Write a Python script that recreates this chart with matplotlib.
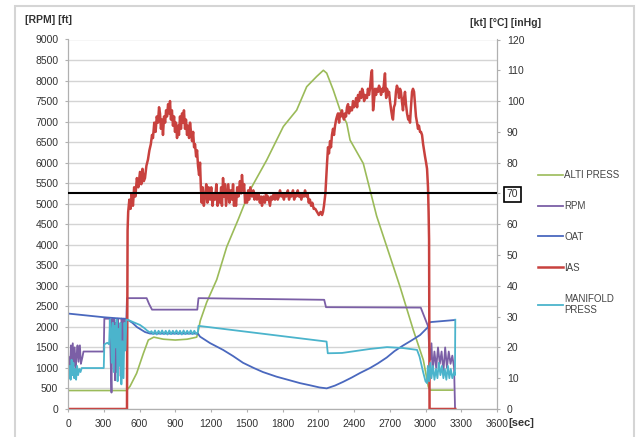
import matplotlib
matplotlib.use("Agg")
import matplotlib.pyplot as plt
from matplotlib.patches import Rectangle

plt.rcParams['font.family'] = ['Liberation Sans', 'DejaVu Sans']

# ALTI PRESS [ft] - left axis
alti_sec = [0, 490, 520, 576, 632, 674, 720, 800, 900, 1000, 1080, 1094, 1110, 1164,
            1248, 1332, 1429, 1527, 1667, 1807, 1919, 2003, 2087, 2143, 2171, 2226,
            2283, 2339, 2367, 2478, 2590, 2786, 2898, 2982, 3024, 3040, 3230]
alti_ft = [450, 450, 550, 870, 1350, 1680, 1750, 1700, 1680, 1700, 1750, 1920, 2150, 2600,
           3150, 3950, 4620, 5330, 6060, 6880, 7280, 7850, 8100, 8250, 8180, 7770,
           7280, 6960, 6550, 5980, 4700, 2980, 1920, 1190, 540, 460, 460]

# RPM - left axis
rpm_sec = [0, 10, 18, 25, 32, 40, 48, 56, 64, 72, 80, 88, 100, 108, 120, 130, 300, 305,
           350, 358, 365, 372, 380, 388, 395, 402, 410, 418, 426, 434, 442, 450, 460,
           470, 480, 490, 495, 660, 680, 705, 1085, 1095, 2150, 2165, 2960, 3010, 3024,
           3030, 3040, 3050, 3060, 3075, 3090, 3105, 3120, 3135, 3150, 3165, 3180, 3195,
           3210, 3225, 3240, 3248]
rpm_val = [1300, 1250, 1000, 1550, 1100, 1600, 1050, 1500, 1000, 1300, 1550, 1150, 1550,
           1100, 1250, 1400, 1400, 2200, 2200, 1200, 400, 2200, 1400, 2200, 700, 2100,
           900, 2200, 1100, 2000, 800, 2200, 1500, 2200, 1900, 2250, 2700, 2700, 2560,
           2420, 2420, 2700, 2660, 2480, 2470, 2100, 2000, 1500, 1200, 1600, 900, 1400,
           1000, 1500, 1100, 1400, 900, 1500, 1000, 1400, 1100, 1300, 1000, 0]

# OAT [°C] - right axis
oat_sec = [0, 100, 200, 300, 400, 478, 500, 540, 579, 646, 688, 1090, 1108, 1192, 1301,
           1385, 1469, 1560, 1636, 1750, 1863, 1947, 2031, 2110, 2171, 2240, 2308, 2380,
           2451, 2534, 2600, 2674, 2740, 2811, 2880, 2954, 3021, 3035, 3247]
oat_c = [31, 30.6, 30.2, 29.8, 29.5, 29.3, 29, 28, 26.6, 25, 24.5, 24.5, 23.5, 21.4, 19.2,
         17.2, 15, 13.3, 12, 10.5, 9.3, 8.4, 7.7, 7, 6.7, 7.6, 8.8, 10.2,
         11.7, 13.3, 14.8, 16.7, 18.8, 20.6, 22.2, 24, 26.6, 28.2, 28.9]

# IAS [kt] - right axis
ias_sec = [0, 495, 500, 505, 515, 525, 535, 545, 555, 565, 578, 590, 604, 615, 625, 636,
           646, 658, 671, 683, 695, 705, 713, 724, 735, 745, 755, 764, 772, 780, 790, 797,
           806, 815, 823, 831, 840, 848, 856, 864, 872, 881, 890, 898, 906, 915, 923, 931,
           940, 948, 957, 965, 973, 982, 990, 999, 1007, 1016, 1024, 1032, 1041, 1050,
           1058, 1066, 1075, 1083, 1091, 1100, 1108, 1115, 1122, 1130, 1140, 1150, 1160,
           1170, 1180, 1192, 1202, 1213, 1223, 1234, 1245, 1255, 1265, 1276, 1285, 1292,
           1301, 1310, 1318, 1326, 1334, 1345, 1355, 1366, 1376, 1385, 1393, 1401, 1410,
           1420, 1430, 1443, 1452, 1460, 1469, 1478, 1486, 1495, 1502, 1512, 1520, 1530,
           1544, 1555, 1565, 1576, 1586, 1598, 1610, 1620, 1628, 1640, 1652, 1662, 1670,
           1680, 1695, 1705, 1715, 1726, 1737, 1750, 1760, 1770, 1779, 1790, 1800, 1812,
           1821, 1833, 1845, 1855, 1863, 1875, 1888, 1898, 1905, 1917, 1928, 1938, 1947,
           1958, 1970, 1980, 1989, 2000, 2010, 2020, 2030, 2040, 2050, 2062, 2075, 2090,
           2105, 2120, 2132, 2140, 2148, 2160, 2168, 2174, 2182, 2190, 2199, 2207, 2215,
           2224, 2232, 2241, 2250, 2257, 2266, 2275, 2283, 2290, 2299, 2308, 2316, 2325,
           2333, 2341, 2350, 2358, 2367, 2375, 2383, 2392, 2400, 2409, 2418, 2426, 2434,
           2442, 2451, 2460, 2468, 2476, 2485, 2492, 2500, 2509, 2517, 2526, 2534, 2545,
           2551, 2556, 2560, 2568, 2576, 2585, 2593, 2602, 2610, 2618, 2627, 2636, 2644,
           2652, 2660, 2665, 2670, 2677, 2686, 2694, 2702, 2712, 2720, 2727, 2735, 2744,
           2752, 2760, 2769, 2778, 2786, 2794, 2802, 2811, 2820, 2828, 2836, 2845, 2855,
           2862, 2870, 2878, 2887, 2895, 2904, 2912, 2920, 2929, 2937, 2945, 2954, 2962,
           2971, 2980, 2988, 2996, 3005, 3013, 3021, 3026, 3030, 3034, 3250]
ias_kt = [0, 0, 58, 64, 68, 65, 70, 66, 72, 69, 75, 72, 77, 73, 78, 74,
          75, 79, 81, 84, 86, 89, 88, 93, 90, 95, 93, 98, 96, 91, 94, 89,
          95, 93, 97, 95, 99, 96, 100, 94, 97, 92, 95, 90, 93, 88, 92, 89,
          95, 91, 96, 93, 97, 91, 94, 89, 92, 88, 93, 90, 87, 90,
          85, 86, 82, 84, 79, 76, 80, 72, 67, 72, 66, 69, 73,
          67, 72, 68, 72, 66, 70, 68, 73, 66, 70, 67, 72, 66,
          75, 69, 73, 66, 69, 73, 67, 71, 68, 73, 66, 70, 66,
          72, 69, 74, 70, 76, 71, 73, 67, 70, 67, 71, 68, 72,
          69, 71, 68, 70, 68, 70, 67, 69, 66, 69, 67, 70, 68,
          69, 66, 69, 68, 70, 68, 70, 68, 69, 71, 69, 70, 68,
          70, 69, 71, 68, 70, 69, 71, 68, 70, 69, 71, 69, 70,
          68, 70, 69, 71, 69, 70, 67, 68, 66, 67, 65, 65, 64,
          63, 64, 63, 64, 66, 70, 76, 80, 85, 83, 87, 85, 89,
          91, 89, 92, 94, 95, 96, 93, 96, 95, 97, 95, 94, 96,
          95, 98, 99, 96, 98, 97, 97, 100, 98, 99, 101, 98, 102,
          100, 103, 101, 104, 103, 100, 102, 101, 101, 104, 102, 104, 109,
          110, 102, 97, 100, 104, 102, 104, 103, 105, 104, 102, 104, 103,
          106, 109, 104, 101, 104, 102, 103, 100, 97, 95, 94, 98, 99,
          103, 105, 104, 101, 104, 103, 100, 97, 101, 103, 99, 96, 94,
          95, 93, 98, 103, 104, 103, 99, 95, 93, 91, 92, 90, 90,
          89, 86, 84, 82, 80, 78, 72, 64, 55, 0, 0]

# MANIFOLD PRESS [inHg] - right axis
man_sec = [0, 8, 15, 22, 30, 38, 45, 52, 60, 68, 76, 85, 95, 105, 115, 140, 300, 305,
           330, 345, 352, 360, 368, 376, 384, 392, 400, 408, 416, 424, 432, 440, 448,
           456, 466, 474, 482, 490, 500, 530, 560, 604, 640, 663, 690, 700, 715, 730,
           745, 760, 775, 790, 805, 820, 835, 850, 865, 880, 895, 910, 925, 940, 955,
           970, 985, 1000, 1015, 1030, 1045, 1060, 1075, 1090, 1095, 2170, 2180, 2300,
           2534, 2677, 2811, 2929, 2950, 2980, 3000, 3013, 3020, 3030, 3040, 3050, 3062,
           3075, 3088, 3100, 3112, 3125, 3138, 3150, 3162, 3175, 3188, 3200, 3212, 3225,
           3240, 3247, 3250]
man_inhg = [12, 10, 14, 9.5, 16, 11, 15, 10, 13, 9.5, 14, 11, 13, 12, 13.3, 13.3, 13.3, 21,
            21.5, 21, 29, 26, 15, 28, 12, 27, 20, 29, 9, 26, 14, 28, 8,
            22, 10, 28, 19, 29, 29, 28.5, 28, 27.3, 26.3, 25.5, 24.8, 25.3, 24.3, 25.5,
            24.2, 25.4, 24.4, 25.5, 24.3, 25.4, 24.2, 25.5, 24.3, 25.4, 24.4, 25.5, 24.3, 25.4, 24.2,
            25.5, 24.3, 25.4, 24.4, 25.5, 24.3, 25.4, 24.4, 25, 27, 21.9, 18.1, 18.2,
            19.5, 20.1, 19.8, 19.2, 17, 12, 9, 8.4, 14, 9, 15, 10, 14,
            9.5, 13, 10, 15, 11, 14, 10, 13, 9.5, 14, 10, 13, 10,
            12, 11, 29]

x_ticks = list(range(0, 3601, 300))
left_ticks = list(range(0, 9001, 500))
right_ticks = list(range(0, 121, 10))
limit_kt = 70

fig = plt.figure(figsize=(6.38, 4.37), dpi=100)
ax = fig.add_axes([68 / 638, 1 - 409 / 437, (497 - 68) / 638, (409 - 39.5) / 437])
ax2 = ax.twinx()

l_alti, = ax.plot(alti_sec, alti_ft, color='#9BBB59', lw=1.2, label='ALTI PRESS')
l_rpm, = ax.plot(rpm_sec, rpm_val, color='#7B5FA6', lw=1.3, label='RPM')
l_oat, = ax2.plot(oat_sec, oat_c, color='#4A68BE', lw=1.3, label='OAT')
l_ias, = ax2.plot(ias_sec, ias_kt, color='#C8413E', lw=1.8, label='IAS')
l_man, = ax2.plot(man_sec, man_inhg, color='#4BB4CC', lw=1.3, label='MANIFOLD\nPRESS')
ax2.axhline(limit_kt, color='black', lw=1.5, zorder=5)

ax.set_xlim(0, 3600)
ax.set_ylim(0, 9000)
ax2.set_ylim(0, 120)
ax.set_xticks(x_ticks)
ax.set_yticks(left_ticks)
ax2.set_yticks(right_ticks)
ax.grid(axis='y', color='#D4D4D4', lw=1.0)
ax.set_axisbelow(True)

for a in (ax, ax2):
    a.tick_params(labelsize=7.5, colors='#333333', length=2, pad=5, width=0.8)
    for s in a.spines.values():
        s.set_color('#B0B0B0')
    a.spines['top'].set_visible(False)
ax.tick_params(axis='both', color='#B0B0B0')
ax2.tick_params(axis='y', color='#B0B0B0')

# boxed 70 label on the right axis
lbl = ax2.yaxis.get_major_ticks()[right_ticks.index(limit_kt)].label2
lbl.set_bbox(dict(facecolor='white', edgecolor='black', boxstyle='square,pad=0.25', lw=1.2))

fig.text(25 / 638, 1 - 20 / 437, '[RPM] [ft]', fontsize=7.5, fontweight='bold',
         color='#333333', va='center', ha='left')
fig.text(470 / 638, 1 - 23 / 437, '[kt] [°C] [inHg]', fontsize=7.5, fontweight='bold',
         color='#333333', va='center', ha='left')
fig.text(508 / 638, 1 - 423 / 437, '[sec]', fontsize=8, fontweight='bold',
         color='#333333', va='center', ha='left')

fig.legend(handles=[l_alti, l_rpm, l_oat, l_ias, l_man], loc='upper left',
           bbox_to_anchor=(538 / 638, 1 - 170 / 437), frameon=False, fontsize=7,
           handlelength=2.6, handletextpad=0.1, labelspacing=2.15, borderpad=0,
           borderaxespad=0, labelcolor='#444444')

fig.add_artist(Rectangle((15 / 638, -0.01), (634 - 15) / 638, (437 - 6) / 437 + 0.01,
                         transform=fig.transFigure, fill=False, edgecolor='#D5D5D5', lw=1.5))

fig.savefig('out.png', dpi=100)
